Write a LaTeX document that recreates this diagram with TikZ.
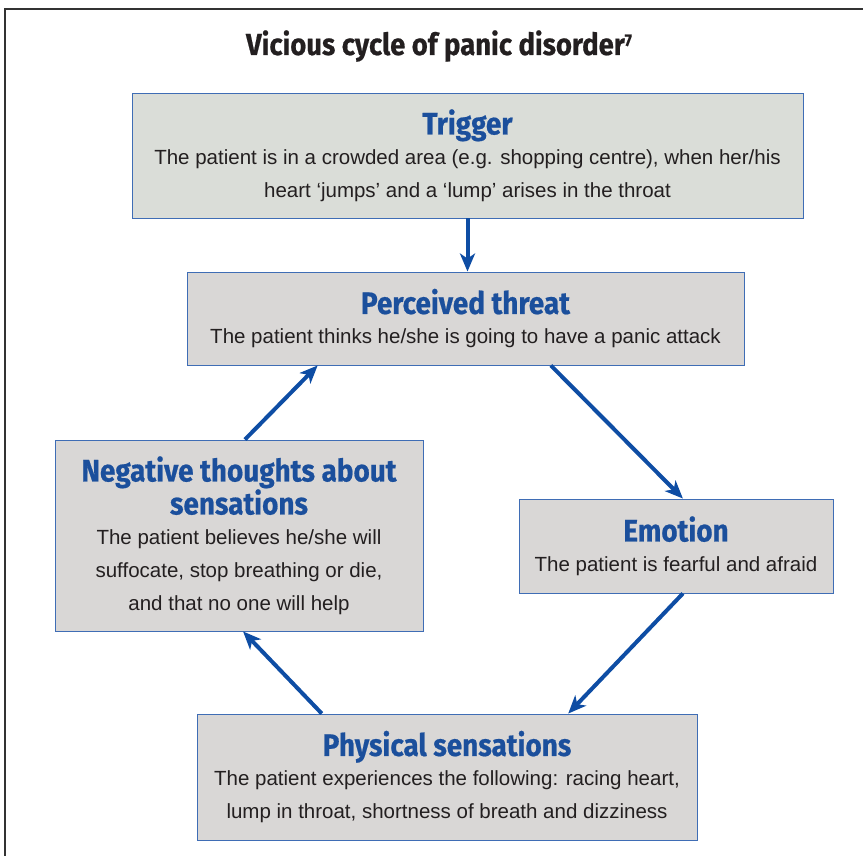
\documentclass[tikz,border=0pt]{standalone}
\usepackage{fontspec}
\setmainfont{Liberation Sans}
\newfontfamily\headfont[FakeStretch=0.9,FakeBold=0.6]{Fira Sans}
\usetikzlibrary{calc,arrows.meta}
\definecolor{edgeblue}{HTML}{3F6DB5}
\definecolor{arrowblue}{HTML}{0E4DA4}
\definecolor{headblue}{HTML}{1B4F9C}
\definecolor{boxgray}{HTML}{D9D7D6}
\definecolor{triggray}{HTML}{DADDD8}
\definecolor{textgray}{HTML}{231F20}
\definecolor{framegray}{HTML}{333333}
\def\hd#1{\raisebox{-3pt}{\headfont\bfseries\fontsize{31}{33}\selectfont\color{headblue}#1}}

\begin{document}
\begin{tikzpicture}[x=1pt,y=-1pt,
    box/.style={draw=edgeblue,line width=0.9pt,fill=boxgray,align=center,
      text=textgray,inner sep=0pt,font=\fontsize{20.5}{33}\selectfont},
    flow/.style={draw=arrowblue,line width=4pt,
      -{Stealth[length=18pt,width=15pt,inset=5pt]}}]
  \useasboundingbox (0,0) rectangle (863,856);
  % frame
  \draw[framegray,line width=1.3pt] (5,856) -- (5,9) -- (863,9);
  \node[anchor=base,text=textgray] (title) at (439,55)
    {\headfont\bfseries\fontsize{30.5}{33}\selectfont Vicious cycle of panic disorder\raisebox{9pt}{\fontsize{17}{17}\selectfont 7}};
  % boxes
  \node[box,fill=triggray,minimum width=671pt,minimum height=125pt] (trig) at (467.5,155.5)
    {\hd{Trigger}\\The patient is in a crowded area (e.g. shopping centre), when her/his\\heart ‘jumps’ and a ‘lump’ arises in the throat};
  \node[box,minimum width=557pt,minimum height=93pt] (perc) at (465.5,318.5)
    {\hd{Perceived threat}\\The patient thinks he/she is going to have a panic attack};
  \node[box,minimum width=368pt,minimum height=191pt] (neg) at (239,535.5)
    {\hd{Negative thoughts about}\\\hd{sensations}\\The patient believes he/she will\\suffocate, stop breathing or die,\\and that no one will help};
  \node[box,minimum width=314pt,minimum height=94pt] (emo) at (676,546)
    {\hd{Emotion}\\The patient is fearful and afraid};
  \node[box,minimum width=500pt,minimum height=126pt] (phys) at (447,777)
    {\hd{Physical sensations}\\The patient experiences the following: racing heart,\\lump in throat, shortness of breath and dizziness};
  % arrows
  \draw[flow] (trig.south) -- (trig.south |- perc.north);
  \draw[flow] ($(perc.south west)!0.653!(perc.south east)$) -- ($(emo.north west)!0.522!(emo.north east)$);
  \draw[flow] ($(emo.south west)!0.522!(emo.south east)$) -- ($(phys.north west)!0.742!(phys.north east)$);
  \draw[flow] ($(phys.north west)!0.25!(phys.north east)$) -- ($(neg.south west)!0.511!(neg.south east)$);
  \draw[flow] ($(neg.north west)!0.516!(neg.north east)$) -- ($(perc.south west)!0.235!(perc.south east)$);
\end{tikzpicture}
\end{document}
